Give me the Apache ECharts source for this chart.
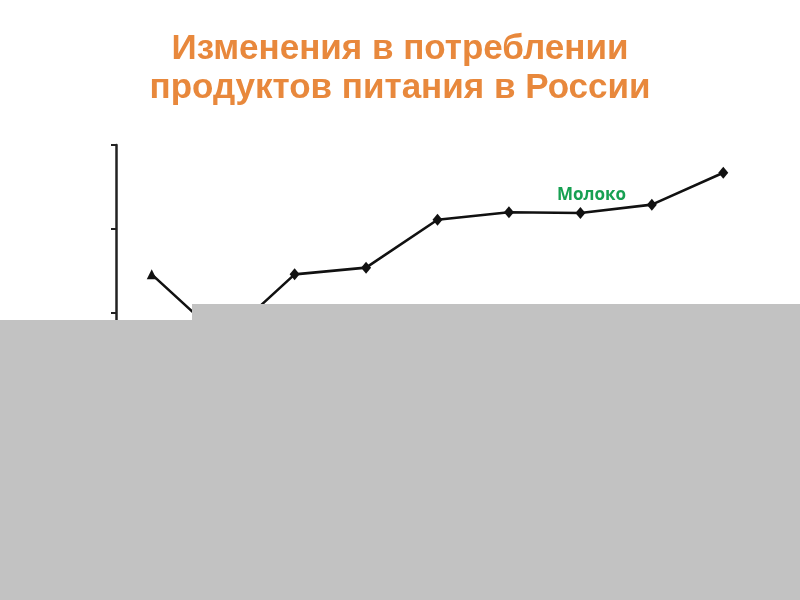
<!DOCTYPE html>
<html>
<head>
<meta charset="utf-8">
<script src="https://cdn.jsdelivr.net/npm/echarts@6/dist/echarts.min.js"></script>
<style>
  html, body { margin: 0; padding: 0; background: #fff; }
  #chart { width: 800px; height: 600px; }
</style>
</head>
<body>
<div id="chart"></div>
<script>
// data (no labels visible, arbitrary units)
var categories = ['1', '2', '3', '4', '5', '6', '7', '8', '9'];
var milk = [14.6, 6.8, 14.6, 15.4, 21.1, 22.0, 21.9, 22.9, 26.7];
var yTicks = { min: 0, max: 30, interval: 10 };

var titleText = 'Изменения в потреблении\nпродуктов питания в России';
var seriesName = 'Молоко';

var chart = echarts.init(document.getElementById('chart'));

var points = milk.map(function (v, i) {
  return i === 0 ? { value: v, symbol: 'triangle', symbolSize: [10, 10] } : v;
});

chart.setOption({
  backgroundColor: '#fff',
  animation: false,
  title: {
    text: titleText,
    left: 'center',
    top: 25,
    textStyle: {
      color: '#e8883c',
      fontSize: 35,
      fontWeight: 'bold',
      fontFamily: 'Liberation Sans, Arial, sans-serif',
      lineHeight: 39
    }
  },
  grid: { left: 116, right: 41, top: 145, bottom: 203 },
  xAxis: {
    type: 'category',
    data: categories,
    boundaryGap: true,
    show: false
  },
  yAxis: {
    type: 'value',
    min: yTicks.min,
    max: yTicks.max,
    interval: yTicks.interval,
    axisLine: { show: true, lineStyle: { color: '#222', width: 2.5 } },
    axisTick: { show: true, length: 5, lineStyle: { color: '#222', width: 2 } },
    axisLabel: { show: false },
    splitLine: { show: false }
  },
  series: [{
    name: seriesName,
    type: 'line',
    data: points,
    symbol: 'diamond',
    symbolSize: [10, 12],
    lineStyle: { color: '#111', width: 2.6 },
    itemStyle: { color: '#111' },
    z: 2
  }],
  graphic: [
    {
      type: 'text',
      left: 557,
      top: 187,
      style: {
        text: seriesName,
        fill: '#17a052',
        font: 'bold 17px "Open Sans", "Liberation Sans", sans-serif'
      }
    },
    {
      type: 'rect',
      z: 100,
      shape: { x: 0, y: 320, width: 192, height: 280 },
      style: { fill: '#c2c2c2' }
    },
    {
      type: 'rect',
      z: 100,
      shape: { x: 192, y: 304, width: 608, height: 296 },
      style: { fill: '#c2c2c2' }
    }
  ]
});
</script>
</body>
</html>
